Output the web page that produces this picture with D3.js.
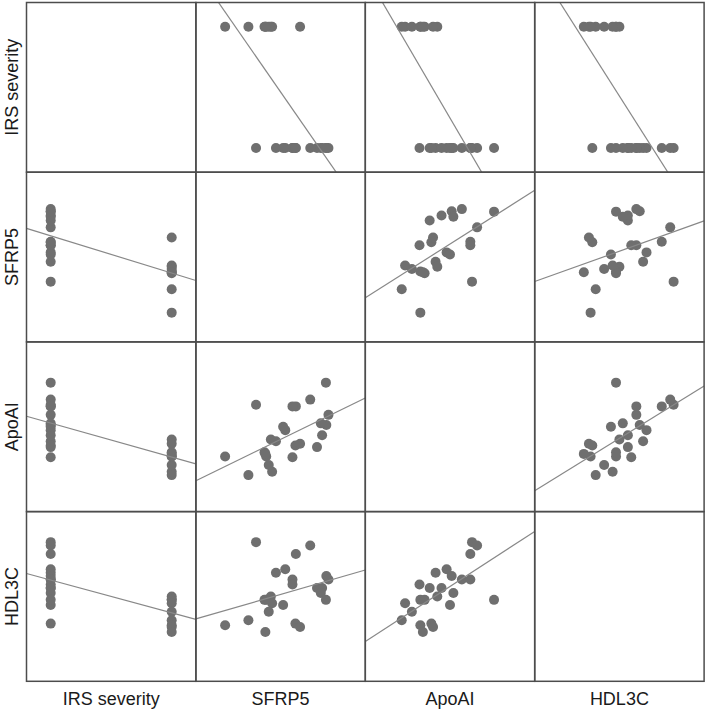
<!DOCTYPE html>
<html>
<head>
<meta charset="utf-8">
<script src="https://cdn.jsdelivr.net/npm/d3@7"></script>
<style>
	body { margin: 0; background: #fff; }
	text { font-family: "Liberation Sans", Arial, sans-serif; fill: #1a1a1a; }
</style>
</head>
<body>
<script>
// variables of the matrix, in row / column order
var variables = ['IRS severity', 'SFRP5', 'ApoAI', 'HDL3C'];

// one entry per patient (0 = mild, 1 = severe)
var irsSeverity = [0, 0, 0, 0, 0, 0, 0, 0, 0, 0, 0, 0, 1, 1, 1, 1, 0, 1, 1, 1, 0, 1, 1, 0];
var sfrp5 = [14.2, 27.0, 23.6, 18.9, 21.1, 30.8, 31.3, 22.8, 22.8, 28.6, 29.8, 29.5,
	17.7, 16.6, 16.2, 18.0, 20.6, 17.2, 12.4, 6.9, 23.5, 24.6, 16.4, 30.7];
var apoAI = [1.66, 1.72, 1.64, 1.23, 1.36, 1.42, 1.54, 1.64, 1.04, 1.16, 1.30, 1.44,
	1.25, 1.05, 1.10, 0.87, 1.40, 0.95, 0.83, 1.05, 1.18, 1.20, 1.08, 1.92];
var hdl3c = [1.02, 1.00, 0.95, 0.84, 0.86, 0.82, 0.80, 0.80, 0.77, 0.75, 0.75, 0.72,
	0.70, 0.68, 0.68, 0.66, 0.65, 0.61, 0.56, 0.53, 0.54, 0.52, 0.49, 0.68];

// axis range of each variable (no ticks are drawn)
var domains = [[-0.2, 1.2], [0, 40], [0.4, 2.4], [0.2, 1.2]];

var columns = [irsSeverity, sfrp5, apoAI, hdl3c];

// "top" is taken by window.top, so the grid origin gets its own names
var gridLeft = 26.5,
	gridTop = 2.5,
	cellW = 169.4,
	cellH = 169.7,
	n = irsSeverity.length;

var svg = d3.select('body').append('svg')
	.attr('width', 709)
	.attr('height', 712);

var defs = svg.append('defs');

// least squares fit of y on x
function fit(xv, yv) {
	var mx = d3.mean(xv), my = d3.mean(yv),
		sxy = d3.sum(xv, function(d, k) { return (d - mx) * (yv[k] - my); }),
		sxx = d3.sum(xv, function(d) { return (d - mx) * (d - mx); }),
		b = sxy / sxx;
	return { a: my - b * mx, b: b };
}

variables.forEach(function(rowVar, i) {
	variables.forEach(function(colVar, j) {
		var g = svg.append('g')
			.attr('transform', 'translate(' + (gridLeft + j * cellW) + ',' + (gridTop + i * cellH) + ')');

		if (i === j) return;

		var xs = d3.scaleLinear().domain(domains[j]).range([0, cellW]),
			ys = d3.scaleLinear().domain(domains[i]).range([cellH, 0]),
			xv = columns[j],
			yv = columns[i],
			clipId = 'clip-' + i + '-' + j;

		defs.append('clipPath').attr('id', clipId)
			.append('rect')
			.attr('width', cellW)
			.attr('height', cellH);

		var inner = g.append('g').attr('clip-path', 'url(#' + clipId + ')');

		inner.selectAll('circle')
			.data(d3.range(n))
			.enter().append('circle')
			.attr('cx', function(k) { return xs(xv[k]); })
			.attr('cy', function(k) { return ys(yv[k]); })
			.attr('r', 5)
			.attr('fill', '#6f6f6f');

		var line = fit(xv, yv);
		inner.append('line')
			.attr('x1', xs(domains[j][0]))
			.attr('y1', ys(line.a + line.b * domains[j][0]))
			.attr('x2', xs(domains[j][1]))
			.attr('y2', ys(line.a + line.b * domains[j][1]))
			.attr('stroke', '#888')
			.attr('stroke-width', 1.2);
	});
});

// grid drawn on top of the marks
variables.forEach(function(rowVar, i) {
	variables.forEach(function(colVar, j) {
		svg.append('rect')
			.attr('x', gridLeft + j * cellW)
			.attr('y', gridTop + i * cellH)
			.attr('width', cellW)
			.attr('height', cellH)
			.attr('fill', 'none')
			.attr('stroke', '#4d4d4d')
			.attr('stroke-width', 1.5);
	});
});

// column labels
svg.selectAll('.colLabel')
	.data(variables)
	.enter().append('text')
	.classed('colLabel', true)
	.attr('x', function(d, j) { return gridLeft + (j + 0.5) * cellW; })
	.attr('y', 705)
	.attr('text-anchor', 'middle')
	.style('font-size', '18px')
	.text(function(d) { return d; });

// row labels
svg.selectAll('.rowLabel')
	.data(variables)
	.enter().append('text')
	.classed('rowLabel', true)
	.attr('transform', function(d, i) {
		return 'translate(17.5,' + (gridTop + (i + 0.5) * cellH) + ') rotate(-90)';
	})
	.attr('text-anchor', 'middle')
	.style('font-size', '18px')
	.text(function(d) { return d; });
</script>
</body>
</html>
